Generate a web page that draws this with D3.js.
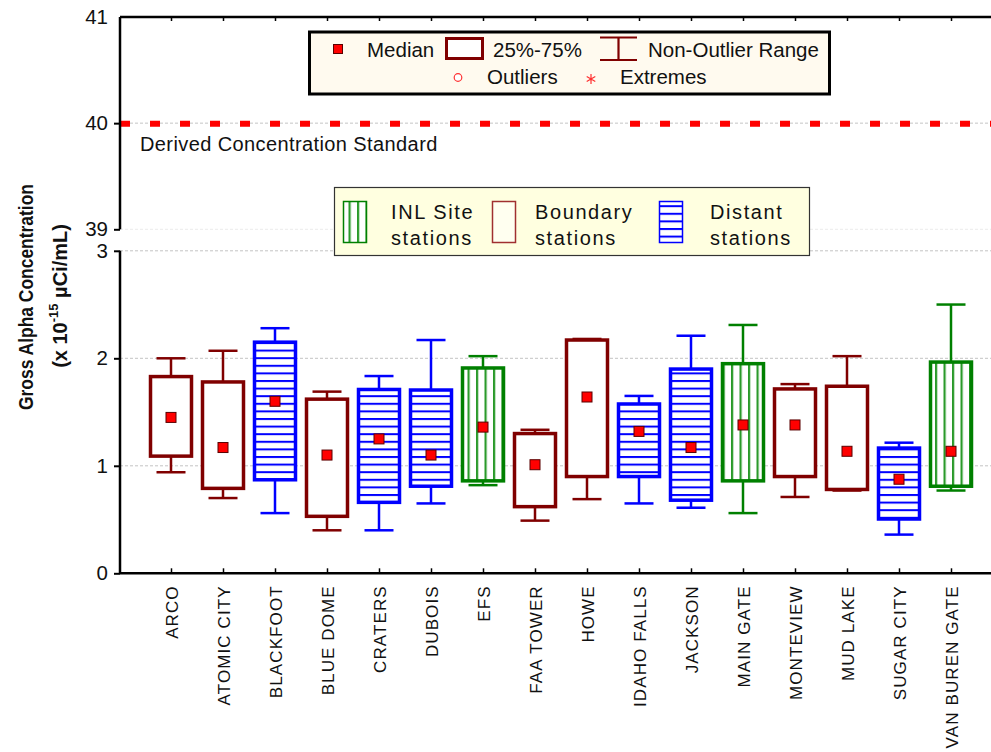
<!DOCTYPE html>
<html><head><meta charset="utf-8">
<script src="https://cdn.jsdelivr.net/npm/d3@7"></script>
<style>body{margin:0;background:#fff}svg{display:block}text{font-family:"Liberation Sans",Arial,sans-serif}</style>
</head><body><svg id="c" width="991" height="752"></svg>
<script>
const stations = ["ARCO","ATOMIC CITY","BLACKFOOT","BLUE DOME","CRATERS","DUBOIS","EFS","FAA TOWER","HOWE","IDAHO FALLS","JACKSON","MAIN GATE","MONTEVIEW","MUD LAKE","SUGAR CITY","VAN BUREN GATE"];
const group = ["B","B","D","B","D","D","I","B","B","D","D","I","B","B","D","I"];
const whiskerLow = [0.94,0.70,0.56,0.40,0.40,0.65,0.82,0.49,0.69,0.65,0.61,0.56,0.71,0.77,0.36,0.77];
const q1 =        [1.09,0.79,0.87,0.53,0.66,0.81,0.86,0.62,0.90,0.90,0.68,0.86,0.90,0.78,0.505,0.81];
const median =    [1.45,1.17,1.60,1.10,1.25,1.10,1.36,1.01,1.64,1.32,1.17,1.38,1.38,1.135,0.875,1.135];
const q3 =        [1.83,1.78,2.15,1.62,1.71,1.705,1.91,1.30,2.17,1.575,1.90,1.95,1.715,1.74,1.165,1.965];
const whiskerHigh=[2.00,2.07,2.28,1.69,1.835,2.17,2.02,1.335,2.18,1.65,2.21,2.31,1.76,2.02,1.215,2.50];
const lowerTicks = [0,1,2,3];
const upperTicks = [39,40,41];
const standardValue = 40;

const colors = {B:"#800000", D:"#0000ff", I:"#008000"};
const svg = d3.select("#c");

const defs = svg.append("defs");
const ph = defs.append("pattern").attr("id","hstripe").attr("patternUnits","userSpaceOnUse").attr("width",8).attr("height",7.6);
ph.append("rect").attr("width",8).attr("height",7.6).attr("fill","#fff");
ph.append("rect").attr("y",0).attr("width",8).attr("height",2).attr("fill","#0000ff");
const pv = defs.append("pattern").attr("id","vstripe").attr("patternUnits","userSpaceOnUse").attr("width",8.5).attr("height",8);
pv.append("rect").attr("width",8.5).attr("height",8).attr("fill","#fff");
pv.append("rect").attr("x",0).attr("width",2.2).attr("height",8).attr("fill","#2a9a2a");
const fills = {B:"#fff", D:"url(#hstripe)", I:"url(#vstripe)"};

const x = d3.scaleLinear().domain([-1,16]).range([119,1003]);
const yL = d3.scaleLinear().domain([0,3]).range([573.3,250.8]);
const yU = d3.scaleLinear().domain([39,41]).range([229.3,17]);
const left = 120, right = 991;

// gridlines
const grid = svg.append("g");
lowerTicks.filter(d=>d>0).forEach(d=>grid.append("line").attr("x1",left).attr("x2",right).attr("y1",yL(d)).attr("y2",yL(d)).attr("stroke","#c4c4c4").attr("stroke-dasharray","3,2"));
grid.append("line").attr("x1",left).attr("x2",right).attr("y1",yU(39)).attr("y2",yU(39)).attr("stroke","#ececec").attr("stroke-dasharray","3,2");
grid.append("line").attr("x1",left).attr("x2",right).attr("y1",yU(40)).attr("y2",yU(40)).attr("stroke","#c4c4c4").attr("stroke-dasharray","3,2");

// standard line
svg.append("line").attr("x1",left).attr("x2",right).attr("y1",yU(standardValue)+0.5).attr("y2",yU(standardValue)+0.5)
  .attr("stroke","#ff0000").attr("stroke-width",6).attr("stroke-dasharray","10,20");
svg.append("text").attr("x",140).attr("y",151).attr("font-size",20).attr("letter-spacing",0.4).attr("fill","#111").text("Derived Concentration Standard");

// axes
const axL = d3.axisLeft(yL).tickValues(lowerTicks).tickSize(6).tickPadding(6).tickFormat(d3.format("d"));
const gL = svg.append("g").attr("transform",`translate(${left},0)`).call(axL);
const axU = d3.axisLeft(yU).tickValues(upperTicks).tickSize(6).tickPadding(6).tickFormat(d3.format("d"));
const gU = svg.append("g").attr("transform",`translate(${left},0)`).call(axU);
[gL,gU].forEach(g=>{g.select(".domain").remove();g.selectAll(".tick line").attr("stroke","#000").attr("stroke-width",2);
  g.selectAll(".tick text").attr("font-size",20.5).attr("fill","#111").attr("font-family","Liberation Sans, Arial, sans-serif");});
gU.selectAll(".tick").filter(d=>d===41).select("line").remove();
svg.append("line").attr("x1",left).attr("x2",left).attr("y1",yU(41)).attr("y2",yU(39)).attr("stroke","#000").attr("stroke-width",2.5);
svg.append("line").attr("x1",left).attr("x2",left).attr("y1",yL(3)).attr("y2",yL(0)).attr("stroke","#000").attr("stroke-width",2.5);

const axB = d3.axisBottom(x).tickValues(d3.range(stations.length)).tickSizeInner(-5).tickSizeOuter(0).tickFormat(i=>stations[i]);
const gB = svg.append("g").attr("transform",`translate(0,${yL(0)})`).call(axB);
gB.select(".domain").attr("d",`M${left},0H${right}`).attr("stroke","#000").attr("stroke-width",2.5);
gB.selectAll(".tick line").attr("stroke","#000").attr("stroke-width",1.5);
gB.selectAll(".tick text").attr("font-size",17).attr("letter-spacing",1.1).attr("fill","#111")
  .attr("text-anchor","end").attr("transform","rotate(-90)").attr("x",-12).attr("y",0).attr("dy","0.36em").attr("dx",0);

const axT = d3.axisTop(x).tickValues(d3.range(stations.length)).tickSizeInner(-4).tickSizeOuter(0).tickFormat("");
const gT = svg.append("g").attr("transform",`translate(0,${yU(41)})`).call(axT);
gT.select(".domain").attr("d",`M${left},0H${right}`).attr("stroke","#000").attr("stroke-width",2.5);
gT.selectAll(".tick line").attr("stroke","#000").attr("stroke-width",1.5);

// boxes
const bw = 41, cw = 29;
const boxes = svg.append("g");
stations.forEach((s,i)=>{
  const c = colors[group[i]], cx = x(i);
  const g = boxes.append("g");
  g.append("line").attr("x1",cx).attr("x2",cx).attr("y1",yL(q3[i])).attr("y2",yL(whiskerHigh[i])).attr("stroke",c).attr("stroke-width",2.5);
  g.append("line").attr("x1",cx).attr("x2",cx).attr("y1",yL(q1[i])).attr("y2",yL(whiskerLow[i])).attr("stroke",c).attr("stroke-width",2.5);
  g.append("line").attr("x1",cx-cw/2).attr("x2",cx+cw/2).attr("y1",yL(whiskerHigh[i])).attr("y2",yL(whiskerHigh[i])).attr("stroke",c).attr("stroke-width",2.5);
  g.append("line").attr("x1",cx-cw/2).attr("x2",cx+cw/2).attr("y1",yL(whiskerLow[i])).attr("y2",yL(whiskerLow[i])).attr("stroke",c).attr("stroke-width",2.5);
  g.append("rect").attr("x",cx-bw/2).attr("width",bw).attr("y",yL(q3[i])).attr("height",yL(q1[i])-yL(q3[i]))
    .attr("fill",fills[group[i]]).attr("stroke",c).attr("stroke-width",3.5);
  g.append("rect").attr("x",cx-5).attr("y",yL(median[i])-5).attr("width",10).attr("height",10).attr("fill","#ff0000").attr("stroke","#5a0000").attr("stroke-width",1);
});

// legend 1
const l1 = svg.append("g");
l1.append("rect").attr("x",309.5).attr("y",32).attr("width",520).attr("height",62).attr("fill","#fffaef").attr("stroke","#000").attr("stroke-width",3);
l1.append("rect").attr("x",333.5).attr("y",44.5).attr("width",9).attr("height",9).attr("fill","#ff0000").attr("stroke","#5a0000").attr("stroke-width",1);
l1.append("text").attr("x",367).attr("y",57).attr("font-size",20.5).attr("fill","#111").text("Median");
l1.append("rect").attr("x",446.5).attr("y",38.5).attr("width",36).attr("height",20).attr("fill","#fff").attr("stroke","#800000").attr("stroke-width",3);
l1.append("text").attr("x",493).attr("y",57).attr("font-size",20.5).attr("fill","#111").text("25%-75%");
l1.append("path").attr("d","M600,37.5H637M618.5,37.5V60M600,60H637").attr("fill","none").attr("stroke","#800000").attr("stroke-width",2.2);
l1.append("text").attr("x",648).attr("y",57).attr("font-size",20.5).attr("fill","#111").text("Non-Outlier Range");
l1.append("circle").attr("cx",458).attr("cy",77.5).attr("r",3.8).attr("fill","#fff").attr("stroke","#ff3030").attr("stroke-width",1.2);
l1.append("text").attr("x",487).attr("y",84).attr("font-size",20.5).attr("fill","#111").text("Outliers");
l1.append("path").attr("d","M591,74V84M586.7,76.5L595.3,81.5M586.7,81.5L595.3,76.5").attr("stroke","#ff3030").attr("stroke-width",1.2);
l1.append("text").attr("x",620).attr("y",84).attr("font-size",20.5).attr("fill","#111").text("Extremes");

// legend 2
const l2 = svg.append("g");
l2.append("rect").attr("x",334.5).attr("y",187.5).attr("width",475).attr("height",68).attr("fill","#ffffe0").attr("stroke","#333").attr("stroke-width",1.2);
const legItems = [{g:"I",x:343,t:["INL Site","stations"],tx:391},{g:"B",x:492,t:["Boundary","stations"],tx:535},{g:"D",x:659,t:["Distant","stations"],tx:710}];
legItems.forEach(it=>{
  l2.append("rect").attr("x",it.x+0.5).attr("y",201.5).attr("width",23).attr("height",41)
    .attr("fill",it.g==="B"?"#fffff0":fills[it.g]).attr("stroke",it.g==="B"?"#a03030":colors[it.g]).attr("stroke-width",1.5);
  l2.append("text").attr("x",it.tx).attr("y",219).attr("font-size",20).attr("letter-spacing",1.6).attr("fill","#111").text(it.t[0]);
  l2.append("text").attr("x",it.tx).attr("y",245).attr("font-size",20).attr("letter-spacing",1.6).attr("fill","#111").text(it.t[1]);
});

// y title
const yt = svg.append("g").attr("font-weight","bold").attr("fill","#111");
yt.append("text").attr("transform","translate(33,297) rotate(-90)").attr("text-anchor","middle").attr("font-size",21)
  .attr("textLength",226).attr("lengthAdjust","spacingAndGlyphs").text("Gross Alpha Concentration");
const t2 = yt.append("text").attr("transform","translate(67,296) rotate(-90)").attr("text-anchor","middle").attr("font-size",20);
t2.append("tspan").text("(x 10");
t2.append("tspan").attr("dy",-9).attr("font-size",13).text("-15");
t2.append("tspan").attr("dy",9).text(" \u00b5Ci/mL)");
</script></body></html>
